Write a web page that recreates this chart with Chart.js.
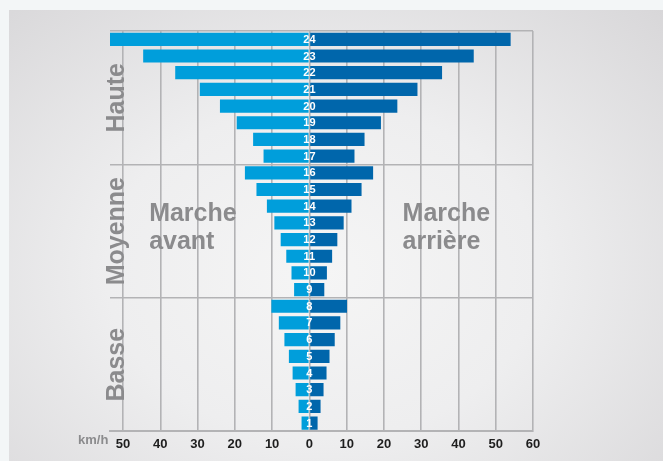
<!DOCTYPE html>
<html>
<head>
<meta charset="utf-8">
<script src="https://cdn.jsdelivr.net/npm/chart.js@4"></script>
<style>
  html, body { margin: 0; padding: 0; background: #f3f6f7; }
  #wrap { position: relative; width: 663px; height: 461px; background: #f3f6f7; }
  #panel { position: absolute; left: 9px; top: 10px; right: 0; bottom: 0;
    background: radial-gradient(ellipse at 48% 58%, #f5f5f5 0%, #eeeeef 45%, #d8d7d9 100%); }
  #chart { position: absolute; left: 0; top: 0; }
</style>
</head>
<body>
<div id="wrap">
  <div id="panel"></div>
  <canvas id="chart" width="663" height="461"></canvas>
</div>
<script>
// gears, top to bottom
var gears = ['24', '23', '22', '21', '20', '19', '18', '17',
             '16', '15', '14', '13', '12', '11', '10', '9',
             '8', '7', '6', '5', '4', '3', '2', '1']

// km/h, forward (marche avant) and reverse (marche arriere)
var avant = [53.5, 44.6, 36.0, 29.4, 24.0, 19.5, 15.1, 12.3,
             17.3, 14.2, 11.4, 9.4, 7.7, 6.2, 4.8, 4.1,
             10.2, 8.2, 6.7, 5.5, 4.5, 3.7, 2.9, 2.1]
var arriere = [54.0, 44.1, 35.6, 29.0, 23.6, 19.2, 14.8, 12.1,
               17.1, 14.0, 11.3, 9.2, 7.5, 6.1, 4.7, 4.0,
               10.1, 8.3, 6.8, 5.4, 4.6, 3.8, 3.0, 2.2]

// speed ticks
var speedTicks = [-50, -40, -30, -20, -10, 0, 10, 20, 30, 40, 50, 60]

// ranges: Haute, Moyenne, Basse
var sections = ['Haute', 'Moyenne', 'Basse']
var sectionBounds = [0, 8, 16, 24]

var gridColor = '#b3b3b5'
var grey = '#8b8b8d'
var font = '"Liberation Sans", Arial, sans-serif'

var overlay = {
  id: 'overlay',
  afterDatasetsDraw: function (chart) {
    var ctx = chart.ctx
    var xs = chart.scales.x
    var ys = chart.scales.y
    var area = chart.chartArea
    ctx.save()

    // gear numbers in the middle
    ctx.fillStyle = '#ffffff'
    ctx.font = 'bold 11px ' + font
    ctx.textAlign = 'center'
    ctx.textBaseline = 'middle'
    var x0 = xs.getPixelForValue(0)
    gears.forEach(function (g, i) {
      ctx.fillText(g, x0, ys.getPixelForValue(i) + 0.5)
    })

    // section names, rotated
    ctx.fillStyle = grey
    ctx.font = 'bold 25px ' + font
    sections.forEach(function (s, i) {
      var mid = (sectionBounds[i] + sectionBounds[i + 1] - 1) / 2
      var y = ys.getPixelForValue(mid)
      ctx.save()
      ctx.translate(area.left + 7, y)
      ctx.rotate(-Math.PI / 2)
      ctx.textAlign = 'center'
      ctx.textBaseline = 'middle'
      ctx.fillText(s, 0, 0)
      ctx.restore()
    })

    // Marche avant / arriere
    ctx.textAlign = 'left'
    ctx.textBaseline = 'alphabetic'
    ctx.fillText('Marche', xs.getPixelForValue(-43), ys.getPixelForValue(10.9))
    ctx.fillText('avant', xs.getPixelForValue(-43), ys.getPixelForValue(12.55))
    ctx.fillText('Marche', xs.getPixelForValue(25), ys.getPixelForValue(10.9))
    ctx.fillText('arrière', xs.getPixelForValue(25), ys.getPixelForValue(12.55))

    // unit
    ctx.font = 'bold 13px ' + font
    ctx.textBaseline = 'middle'
    ctx.fillText('km/h', area.left - 32, area.bottom + 9)
    ctx.restore()
  }
}

var ctx = document.getElementById('chart').getContext('2d')

var chart = new Chart(ctx, {
  type: 'bar',
  data: {
    labels: gears,
    datasets: [{
      label: 'Marche avant',
      data: avant.map(function (v) { return -v }),
      backgroundColor: '#009edb'
    }, {
      label: 'Marche arrière',
      data: arriere,
      backgroundColor: '#0066ab'
    }]
  },
  options: {
    indexAxis: 'y',
    responsive: false,
    animation: false,
    layout: { padding: { left: 110, right: 130, top: 31, bottom: 4 } },
    datasets: { bar: { categoryPercentage: 1, barPercentage: 0.79 } },
    plugins: { legend: { display: false }, tooltip: { enabled: false } },
    scales: {
      x: {
        stacked: true,
        min: -53.5,
        max: 60,
        afterBuildTicks: function (scale) {
          scale.ticks = speedTicks.map(function (v) { return { value: v } })
        },
        grid: { color: gridColor, lineWidth: 1.6, drawTicks: false },
        border: { display: true, color: gridColor, width: 2 },
        ticks: {
          padding: 5,
          autoSkip: false,
          maxRotation: 0,
          color: '#1e1e1e',
          font: { family: font, size: 13, weight: 'bold' },
          callback: function (v) { return Math.abs(v) }
        }
      },
      y: {
        stacked: true,
        grid: {
          drawTicks: false,
          lineWidth: 1.6,
          color: function (c) {
            return sectionBounds.indexOf(c.index) >= 0 ? gridColor : 'rgba(0,0,0,0)'
          }
        },
        border: { display: false },
        ticks: { display: false }
      }
    }
  },
  plugins: [overlay]
})
</script>
</body>
</html>
